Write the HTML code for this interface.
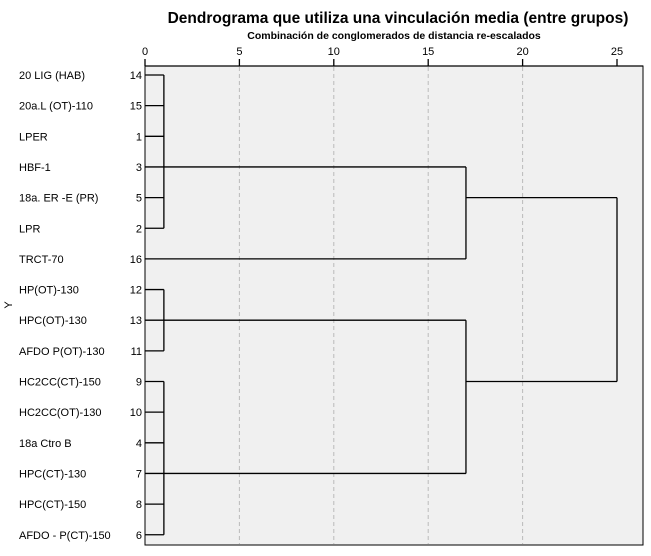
<!DOCTYPE html>
<html><head><meta charset="utf-8"><style>
body{margin:0;background:#fff;font-family:"Liberation Sans",sans-serif}
</style></head><body>
<svg id="c" width="651" height="551" xmlns="http://www.w3.org/2000/svg">
<text x="398" y="23" text-anchor="middle" font-size="15.5" font-weight="bold">Dendrograma que utiliza una vinculación media (entre grupos)</text>
<text x="394" y="39" text-anchor="middle" font-size="10.5" font-weight="bold">Combinación de conglomerados de distancia re-escalados</text>
<text x="12" y="305" text-anchor="middle" font-size="11" transform="rotate(-90 12 305)">Y</text>
<rect x="145" y="66" width="498" height="479" fill="#f0f0f0" stroke="#000" stroke-width="1"/>
<g id="g"></g>
</svg>
<script>
const ticks=[0,5,10,15,20,25];
const labels=["20 LIG (HAB)","20a.L (OT)-110","LPER","HBF-1","18a. ER -E (PR)","LPR","TRCT-70","HP(OT)-130","HPC(OT)-130","AFDO P(OT)-130","HC2CC(CT)-150","HC2CC(OT)-130","18a Ctro B","HPC(CT)-130","HPC(CT)-150","AFDO - P(CT)-150"];
const ids=[14,15,1,3,5,2,16,12,13,11,9,10,4,7,8,6];
const groupA=[0,5], groupB=[7,9], groupC=[10,15];
const mergeLow=1, mergeMid=17, mergeTop=25;
const X=v=>145+v*18.88;
const Y=i=>75+i*30.65;
const g=document.getElementById('g');
const ns="http://www.w3.org/2000/svg";
function el(t,a,txt){const e=document.createElementNS(ns,t);for(const k in a)e.setAttribute(k,a[k]);if(txt!==undefined)e.textContent=txt;g.appendChild(e);return e;}
function line(x1,y1,x2,y2,name){const e=el('line',{x1,y1,x2,y2,stroke:'#000','stroke-width':1.3});

}
ticks.forEach(t=>{
  if(t>0&&t<25){const gl=el('line',{x1:X(t),y1:67,x2:X(t),y2:544,stroke:'#bbb','stroke-dasharray':'4,3'});
  
  }
  const tk=el('line',{x1:X(t),y1:59,x2:X(t),y2:66,stroke:'#000','stroke-width':1.3});
  
  
  const tl=el('text',{x:X(t),y:55,'text-anchor':'middle','font-size':11},String(t));
  
  
});
line(145,66,643,66,'x-axis-line');
labels.forEach((l,i)=>{
  const t=el('text',{x:19,y:Y(i)+4,'font-size':11},l);
  
  
  const n=el('text',{x:142,y:Y(i)+4,'text-anchor':'end','font-size':11},String(ids[i]));
  
  
  line(145,Y(i),i===6?X(mergeMid):X(mergeLow),Y(i),'leaf-branch');
});
[groupA,groupB,groupC].forEach(gr=>line(X(mergeLow),Y(gr[0]),X(mergeLow),Y(gr[1]),'cluster-join'));
const aY=Y(3), bY=Y(8), cY=Y(13);
line(X(mergeLow),aY,X(mergeMid),aY,'branch-a');
line(X(mergeMid),aY,X(mergeMid),Y(6),'join-a-trct');
const atY=Y(4);
line(X(mergeMid),atY,X(mergeTop),atY,'branch-a-top');
line(X(mergeLow),bY,X(mergeMid),bY,'branch-b');
line(X(mergeLow),cY,X(mergeMid),cY,'branch-c');
line(X(mergeMid),bY,X(mergeMid),cY,'join-b-c');
const bcY=Y(10);
line(X(mergeMid),bcY,X(mergeTop),bcY,'branch-bc-top');
line(X(mergeTop),atY,X(mergeTop),bcY,'root-join');
</script>
</body></html>
